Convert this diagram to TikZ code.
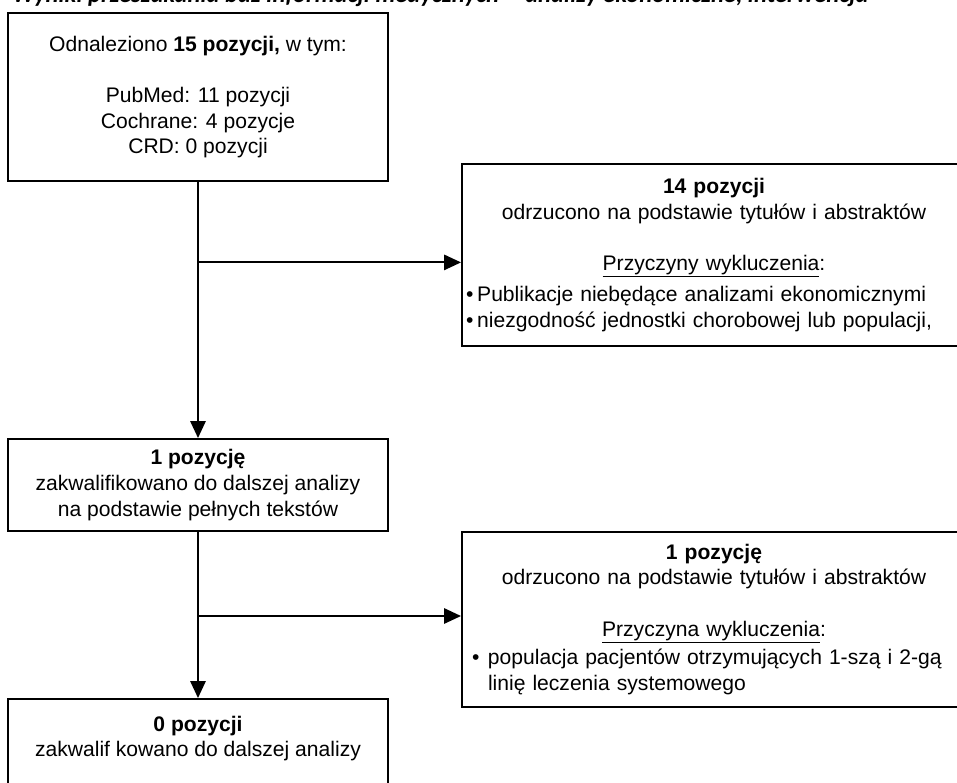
\documentclass[tikz,border=0pt]{standalone}
\usepackage{fontspec}
\setmainfont{Liberation Sans}
\newfontfamily\titlefont{Carlito}
\usetikzlibrary{arrows.meta,positioning}

\newcommand{\bul}[1][0.28cm]{\hangindent=#1\hangafter=1\noindent\makebox[#1][l]{•}}

\begin{document}
\begin{tikzpicture}[
    box/.style={draw=black,line width=1.4pt,minimum width=9.5cm,align=center,inner sep=0.1cm,font=\fontsize{15}{18.2}\selectfont},
    widebox/.style={box,minimum width=12.6cm,text width=12.4cm},
    arr/.style={-{Triangle[length=0.42cm,width=0.38cm]},line width=1.35pt}
]
\clip (0,0) rectangle (23.925,-19.575);

\node[anchor=base west,inner sep=0pt,font=\titlefont\bfseries\itshape\fontsize{17.5}{20}\selectfont] (title) at (0.3,-0.07) {Wyniki przeszukania baz informacji medycznych -- analizy ekonomiczne, interwencja};

\node[box,minimum height=4.2cm] (found) at (4.95,-2.425) {Odnaleziono \textbf{15 pozycji,} w tym:\\[18.2pt] PubMed: 11 pozycji\\ Cochrane: 4 pozycje\\ CRD: 0 pozycji};
\node[box,minimum height=2.3cm] (full) at (4.95,-12.125) {\textbf{1 pozycję}\\ zakwalifikowano do dalszej analizy\\ na podstawie pełnych tekstów};
\node[box,minimum height=2.5cm] (final) at (4.95,-18.725) {\textbf{0 pozycji}\\ zakwalif kowano do dalszej analizy\\ ~};

\node[widebox,minimum height=4.55cm] (excl1) at (17.85,-6.375) {\parindent=0pt
    \centering\textbf{14 pozycji}\\ odrzucono na podstawie tytułów i abstraktów\\[18.2pt]
    \underline{Przyczyny wykluczenia}:\par\vspace{4pt}
    \raggedright
    \bul Publikacje niebędące analizami ekonomicznymi\par
    \bul niezgodność jednostki chorobowej lub populacji,\par\vspace{10pt}};
\node[widebox,minimum height=4.38cm] (excl2) at (17.85,-15.48) {\parindent=0pt
    \centering\textbf{1 pozycję}\\ odrzucono na podstawie tytułów i abstraktów\\[18.2pt]
    \underline{Przyczyna wykluczenia}:\par\vspace{2pt}
    \raggedright\leftskip=0.15cm
    \bul[0.4cm]populacja pacjentów otrzymujących 1-szą i 2-gą\newline linię leczenia systemowego\par};

% splits
\coordinate (split1) at (4.95,-6.56);
\coordinate (split2) at (4.95,-15.4);

\draw[arr] (found) -- (full);
\draw[arr] (full) -- (final);
\draw[arr] (split1) -- (split1 -| excl1.west);
\draw[arr] (split2) -- (split2 -| excl2.west);
\end{tikzpicture}
\end{document}
